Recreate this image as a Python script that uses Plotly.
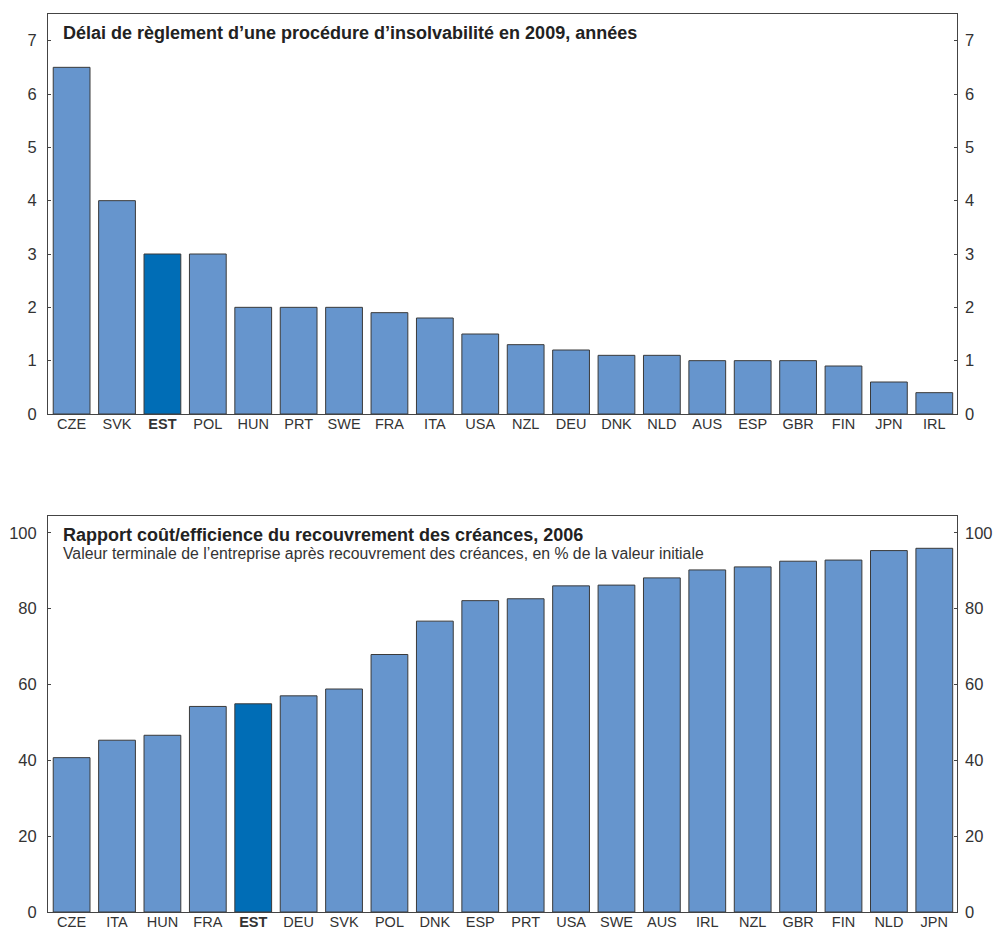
import plotly.graph_objects as go

# Délai de règlement d'une procédure d'insolvabilité (années), 2009
delai_pays = ["CZE", "SVK", "EST", "POL", "HUN", "PRT", "SWE", "FRA", "ITA", "USA",
              "NZL", "DEU", "DNK", "NLD", "AUS", "ESP", "GBR", "FIN", "JPN", "IRL"]
delai_annees = [6.5, 4.0, 3.0, 3.0, 2.0, 2.0, 2.0, 1.9, 1.8, 1.5,
                1.3, 1.2, 1.1, 1.1, 1.0, 1.0, 1.0, 0.9, 0.6, 0.4]

# Valeur terminale après recouvrement des créances (% de la valeur initiale), 2006
recouv_pays = ["CZE", "ITA", "HUN", "FRA", "EST", "DEU", "SVK", "POL", "DNK", "ESP",
               "PRT", "USA", "SWE", "AUS", "IRL", "NZL", "GBR", "FIN", "NLD", "JPN"]
recouv_valeur = [40.7, 45.3, 46.6, 54.2, 54.9, 57.0, 58.8, 67.9, 76.7, 82.1,
                 82.6, 86.0, 86.2, 88.1, 90.2, 91.0, 92.5, 92.8, 95.3, 95.9]

delai_ticks = [0, 1, 2, 3, 4, 5, 6, 7]
recouv_ticks = [0, 20, 40, 60, 80, 100]

FOCUS = "EST"
BAR = "#6695cd"
BAR_FOCUS = "#006db6"
EDGE = "#3a3a3a"
TEXT = "#333333"
FONT = "Liberation Sans, Arial, sans-serif"

W, H = 997, 931
M_L, M_R, M_T, M_B = 48, 40, 14, 19
plot_h = H - M_T - M_B


def frac(px_from_top):
    return (H - M_B - px_from_top) / plot_h


top_dom = [frac(414), 1.0]
bot_dom = [0.0, frac(515.7)]
bot_h = (H - M_B) - 515.7


def colors(cats):
    return [BAR_FOCUS if c == FOCUS else BAR for c in cats]


def ticktext(cats):
    return [f"<b>{c}</b>" if c == FOCUS else c for c in cats]


fig = go.Figure()

fig.add_trace(go.Bar(x=delai_pays, y=delai_annees, xaxis="x", yaxis="y",
                     marker=dict(color=colors(delai_pays), line=dict(color=EDGE, width=1)),
                     showlegend=False))
fig.add_trace(go.Scatter(x=delai_pays, y=delai_annees, xaxis="x", yaxis="y3",
                         mode="markers", marker=dict(opacity=0), hoverinfo="skip",
                         showlegend=False))

fig.add_trace(go.Bar(x=recouv_pays, y=recouv_valeur, xaxis="x2", yaxis="y2",
                     marker=dict(color=colors(recouv_pays), line=dict(color=EDGE, width=1)),
                     showlegend=False))
fig.add_trace(go.Scatter(x=recouv_pays, y=recouv_valeur, xaxis="x2", yaxis="y4",
                         mode="markers", marker=dict(opacity=0), hoverinfo="skip",
                         showlegend=False))

frame = dict(showline=True, linecolor="#444444", linewidth=1, mirror=True)
plain = dict(showgrid=False, zeroline=False, automargin=False)
yaxis_common = dict(ticks="inside", ticklen=3, tickcolor="#444444", ticklabelstandoff=7,
                    tickfont=dict(size=16.5, color=TEXT, family=FONT), **plain)
xaxis_common = dict(type="category", ticks="", range=[-0.52, 19.5], ticklabelstandoff=-3,
                    tickfont=dict(size=14.5, color=TEXT, family=FONT), **plain)

fig.update_layout(
    width=W, height=H,
    margin=dict(l=M_L, r=M_R, t=M_T, b=M_B),
    paper_bgcolor="white", plot_bgcolor="white",
    bargap=0.19,
    font=dict(family=FONT, color=TEXT),
    xaxis=dict(domain=[0, 1], anchor="y", tickvals=delai_pays,
               ticktext=ticktext(delai_pays), **xaxis_common, **frame),
    yaxis=dict(domain=top_dom, anchor="x", range=[0, 7.5], tickvals=delai_ticks,
               **yaxis_common, **frame),
    yaxis3=dict(overlaying="y", side="right", anchor="x", range=[0, 7.5],
                tickvals=delai_ticks, **yaxis_common),
    xaxis2=dict(domain=[0, 1], anchor="y2", tickvals=recouv_pays,
                ticktext=ticktext(recouv_pays), **xaxis_common, **frame),
    yaxis2=dict(domain=bot_dom, anchor="x2", range=[0, 104.5], tickvals=recouv_ticks,
                **yaxis_common, **frame),
    yaxis4=dict(overlaying="y2", side="right", anchor="x2", range=[0, 104.5],
                tickvals=recouv_ticks, **yaxis_common),
)

fig.add_annotation(xref="x domain", yref="y domain", x=0.0143, y=1 - 19 / 400,
                   xanchor="left", yanchor="middle", showarrow=False,
                   text="<b>Délai de règlement d’une procédure d’insolvabilité en 2009, années</b>",
                   font=dict(size=18, color="#222222", family=FONT))
fig.add_annotation(xref="x2 domain", yref="y2 domain", x=0.0143, y=1 - 19.3 / bot_h,
                   xanchor="left", yanchor="middle", showarrow=False,
                   text="<b>Rapport coût/efficience du recouvrement des créances, 2006</b>",
                   font=dict(size=18, color="#222222", family=FONT))
fig.add_annotation(xref="x2 domain", yref="y2 domain", x=0.0143, y=1 - 37.8 / bot_h,
                   xanchor="left", yanchor="middle", showarrow=False,
                   text="Valeur terminale de l’entreprise après recouvrement des créances, en % de la valeur initiale",
                   font=dict(size=15.8, color=TEXT, family=FONT))

fig.write_html("out.html")
